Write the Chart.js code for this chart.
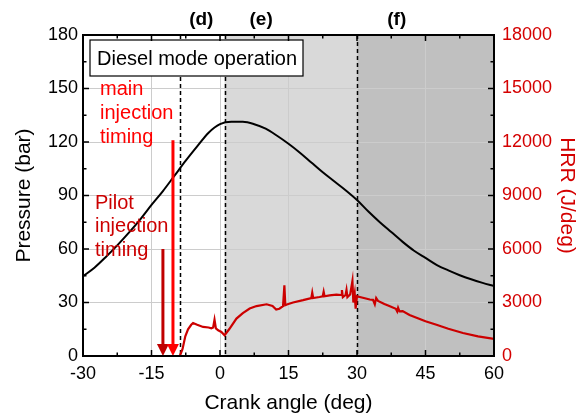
<!DOCTYPE html>
<html>
<head>
<meta charset="utf-8">
<script src="https://cdn.jsdelivr.net/npm/chart.js@4.4.1/dist/chart.umd.min.js"></script>
<style>
    html, body { margin: 0; padding: 0; background: #fff; }
    #wrap { width: 581px; height: 420px; }
</style>
</head>
<body>
<div id="wrap"><canvas id="pressureChart"></canvas></div>
<script>
// in-cylinder pressure (bar) vs crank angle
const pressureAngle = [-30, -27.5, -25, -22.5, -20, -17.5, -15, -12.5, -10, -7.5, -5, -2.5, 0, 2.5, 5, 7.5, 10, 12.5, 15, 17.5, 20, 22.5, 25, 27.5, 30, 32.5, 35, 37.5, 40, 42.5, 45, 47.5, 50, 52.5, 55, 57.5, 60];
const pressureValue = [44.7, 49.5, 55.5, 62, 69, 76.5, 84.7, 92.5, 101, 109.5, 117.5, 125.2, 130, 131.3, 131.3, 130, 127.5, 123.5, 119, 114, 108.5, 103, 98, 93, 87.5, 81, 75, 69.5, 64, 59, 55, 51, 48, 45.3, 43, 41, 39.2];

// heat release rate (J/deg)
const hrrAngle = [-8.8, -8.2, -7.6, -7.0, -6.3, -5.9, -5.0, -3.7, -2.5, -1.9, -1.5, -1.2, -0.9, -0.4, 0.3, 1.0, 2.0, 3.6, 5.0, 6.5, 8.0, 10.2, 11.5, 12.3, 13.0, 13.8, 14.1, 14.3, 14.8, 16.0, 18.2, 20.0, 20.2, 20.4, 21.8, 22.5, 22.7, 22.9, 24.0, 25.5, 26.5, 26.7, 26.9, 27.5, 27.7, 27.9, 28.5, 28.8, 29.0, 29.2, 29.5, 29.7, 30.0, 30.6, 31.5, 32.8, 33.5, 33.9, 34.2, 34.6, 36.0, 37.2, 38.5, 38.8, 39.0, 39.3, 40.0, 41.5, 45.0, 47.4, 50.0, 53.2, 56.5, 60];
const hrrValue = [0, 400, 1100, 1500, 1750, 1850, 1750, 1630, 1600, 1550, 1600, 2040, 1550, 1440, 1350, 1160, 1500, 2100, 2400, 2660, 2800, 2900, 2800, 2600, 2650, 2790, 3970, 2850, 2900, 3000, 3130, 3250, 3550, 3250, 3310, 3350, 3600, 3350, 3400, 3440, 3420, 3700, 3300, 3420, 3700, 3300, 3450, 3900, 4210, 3000, 3500, 2660, 3350, 3310, 3250, 3170, 3150, 2900, 3250, 3090, 2920, 2790, 2650, 2500, 2700, 2500, 2520, 2300, 1950, 1750, 1530, 1290, 1100, 960];

const phaseLines = [-8.8, 1.0, 29.9];
const phaseLabels = ['(d)', '(e)', '(f)'];
const phaseLabelAngle = [-4.1, 9.0, 38.7];
const pilotTiming = -12.5;
const pilotTop = 60;
const mainTiming = -10.3;
const mainTop = 121;

const FONT = "'Liberation Sans', Arial, sans-serif";
const RED_AXIS = '#d40000';

function arrow(ctx, x, yTop, yTip, color) {
    ctx.save();
    ctx.strokeStyle = color;
    ctx.fillStyle = color;
    ctx.lineWidth = 3;
    ctx.beginPath();
    ctx.moveTo(x, yTop);
    ctx.lineTo(x, yTip - 10);
    ctx.stroke();
    ctx.beginPath();
    ctx.moveTo(x - 6, yTip - 12);
    ctx.lineTo(x + 6, yTip - 12);
    ctx.lineTo(x, yTip);
    ctx.closePath();
    ctx.fill();
    ctx.restore();
}

const decor = {
    id: 'decor',
    beforeDraw(chart) {
        const { ctx, chartArea: a, scales: { x } } = chart;
        ctx.save();
        ctx.fillStyle = '#d9d9d9';
        ctx.fillRect(x.getPixelForValue(phaseLines[1]), a.top, x.getPixelForValue(phaseLines[2]) - x.getPixelForValue(phaseLines[1]), a.bottom - a.top);
        ctx.fillStyle = '#c0c0c0';
        ctx.fillRect(x.getPixelForValue(phaseLines[2]), a.top, a.right - x.getPixelForValue(phaseLines[2]), a.bottom - a.top);
        ctx.restore();
    },
    beforeDatasetsDraw(chart) {
        const { ctx, chartArea: a, scales: { x } } = chart;
        ctx.save();
        ctx.strokeStyle = '#000';
        ctx.lineWidth = 1.5;
        ctx.setLineDash([4, 3]);
        phaseLines.forEach(v => {
            const px = Math.round(x.getPixelForValue(v)) + 0.5;
            ctx.beginPath();
            ctx.moveTo(px, a.top);
            ctx.lineTo(px, a.bottom);
            ctx.stroke();
        });
        ctx.restore();
    },
    afterDatasetsDraw(chart) {
        const { ctx, chartArea: a, scales: { x, y } } = chart;
        ctx.save();
        // box
        ctx.fillStyle = '#fff';
        ctx.strokeStyle = '#000';
        ctx.lineWidth = 1.2;
        ctx.fillRect(a.left + 7, a.top + 5, 213, 36);
        ctx.strokeRect(a.left + 7, a.top + 5, 213, 36);
        ctx.fillStyle = '#000';
        ctx.font = '20px ' + FONT;
        ctx.textBaseline = 'middle';
        ctx.fillText('Diesel mode operation', a.left + 14, a.top + 24);

        ctx.font = '20px ' + FONT;
        ctx.fillStyle = '#ff0000';
        ['main', 'injection', 'timing'].forEach((t, i) => {
            ctx.fillText(t, a.left + 17, y.getPixelForValue(149.2 - i * 13.2));
        });
        ctx.fillStyle = '#cc0000';
        ['Pilot', 'injection', 'timing'].forEach((t, i) => {
            ctx.fillText(t, a.left + 12, y.getPixelForValue(85.8 - i * 13.2));
        });

        arrow(ctx, x.getPixelForValue(pilotTiming), y.getPixelForValue(pilotTop), a.bottom, '#c00000');
        arrow(ctx, x.getPixelForValue(mainTiming), y.getPixelForValue(mainTop), a.bottom, '#ff0000');

        ctx.font = 'bold 19px ' + FONT;
        ctx.fillStyle = '#000';
        ctx.textAlign = 'center';
        phaseLabels.forEach((t, i) => {
            ctx.fillText(t, x.getPixelForValue(phaseLabelAngle[i]), a.top - 15);
        });
        ctx.restore();
    },
    afterDraw(chart) {
        const { ctx, chartArea: a, scales: { x, y } } = chart;
        ctx.save();
        ctx.strokeStyle = '#000';
        ctx.lineWidth = 1.5;
        for (let v = -30; v <= 60; v += 7.5) {
            const px = x.getPixelForValue(v);
            const len = v % 15 === 0 ? 6 : 3.5;
            ctx.beginPath();
            ctx.moveTo(px, a.bottom);
            ctx.lineTo(px, a.bottom - len);
            ctx.moveTo(px, a.top);
            ctx.lineTo(px, a.top + len);
            ctx.stroke();
        }
        for (let v = 0; v <= 180; v += 15) {
            const py = y.getPixelForValue(v);
            const len = v % 30 === 0 ? 6 : 3.5;
            ctx.beginPath();
            ctx.moveTo(a.left, py);
            ctx.lineTo(a.left + len, py);
            ctx.moveTo(a.right, py);
            ctx.lineTo(a.right - len, py);
            ctx.stroke();
        }
        ctx.lineWidth = 2;
        ctx.strokeRect(a.left, a.top, a.right - a.left, a.bottom - a.top);
        ctx.restore();
    }
};

new Chart(document.getElementById('pressureChart'), {
    type: 'line',
    data: {
        datasets: [{
            label: 'Pressure',
            data: pressureAngle.map((v, i) => ({ x: v, y: pressureValue[i] })),
            borderColor: '#000',
            borderWidth: 2,
            pointRadius: 0,
            cubicInterpolationMode: 'monotone',
            yAxisID: 'y'
        }, {
            label: 'HRR',
            data: hrrAngle.map((v, i) => ({ x: v, y: hrrValue[i] })),
            borderColor: '#cc0000',
            borderWidth: 2.2,
            pointRadius: 0,
            tension: 0,
            yAxisID: 'y2'
        }]
    },
    options: {
        responsive: true,
        maintainAspectRatio: false,
        animation: false,
        layout: { padding: { top: 35, left: 0, right: 0, bottom: 0 } },
        plugins: { legend: { display: false }, tooltip: { enabled: false } },
        scales: {
            x: {
                type: 'linear', min: -30, max: 60,
                ticks: { stepSize: 15, color: '#000', font: { family: FONT, size: 18 }, padding: 7, maxRotation: 0, callback: v => String(v) },
                grid: { color: '#cccccc', drawTicks: false },
                border: { display: false },
                title: { display: true, text: 'Crank angle (deg)', color: '#000', font: { family: FONT, size: 21 }, padding: { top: 0, bottom: 4 } },
                afterFit: s => { s.height = 64; }
            },
            y: {
                position: 'left', min: 0, max: 180,
                ticks: { stepSize: 30, color: '#000', font: { family: FONT, size: 18 }, padding: 5, callback: v => String(v) },
                grid: { color: '#cccccc', drawTicks: false },
                border: { display: false },
                title: { display: true, text: 'Pressure (bar)', color: '#000', font: { family: FONT, size: 21 }, padding: { top: 12, bottom: 0 } },
                afterFit: s => { s.width = 83; }
            },
            y2: {
                position: 'right', min: 0, max: 18000,
                ticks: { stepSize: 3000, color: RED_AXIS, font: { family: FONT, size: 18 }, padding: 8, callback: v => String(v) },
                grid: { display: false, drawTicks: false },
                border: { display: false },
                title: { display: true, text: 'HRR (J/deg)', color: RED_AXIS, font: { family: FONT, size: 21 }, padding: { top: 2, bottom: 0 } },
                afterFit: s => { s.width = 87; }
            }
        }
    },
    plugins: [decor]
});
</script>
</body>
</html>
